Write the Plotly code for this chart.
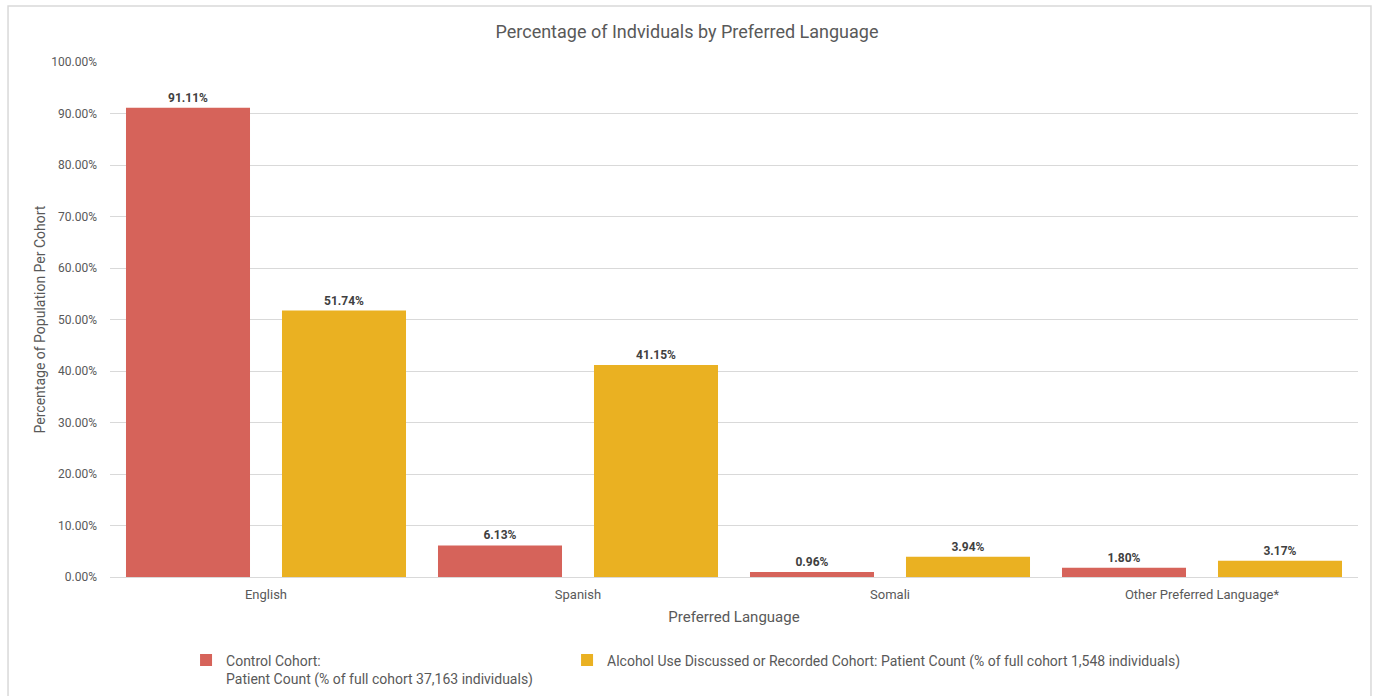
import plotly.graph_objects as go

# Share of each cohort by preferred language (percent)
languages = ["English", "Spanish", "Somali", "Other Preferred Language*"]
control_pct = [91.11, 6.13, 0.96, 1.80]
alcohol_pct = [51.74, 41.15, 3.94, 3.17]
y_ticks = [0, 10, 20, 30, 40, 50, 60, 70, 80, 90, 100]
y_tick_labels = [f"{v:.2f}%" for v in y_ticks]

series_names = [
    "Control Cohort:<br>Patient Count (% of full cohort 37,163 individuals)",
    "Alcohol Use Discussed or Recorded Cohort: Patient Count (% of full cohort 1,548 individuals)",
]
series_colors = ["#D6635A", "#EAB122"]
legend_ids = ["legend", "legend2"]

FONT = "Roboto, Arial, sans-serif"
GREY = "#595959"

fig = go.Figure()
for name, vals, color, lg in zip(series_names, [control_pct, alcohol_pct], series_colors, legend_ids):
    fig.add_trace(go.Bar(
        x=languages,
        y=vals,
        name=name,
        legend=lg,
        marker=dict(color=color, line=dict(width=0)),
        texttemplate="%{y:.2f}%",
        textposition="outside",
        textfont=dict(family=FONT, size=12, color="#404040", weight="bold"),
        cliponaxis=False,
    ))

# Light outer frame around the chart
fig.add_shape(
    type="rect", xref="paper", yref="paper",
    x0=-0.0817, x1=1.0104, y0=-0.25, y1=1.1087,
    line=dict(color="#D9D9D9", width=1.5), fillcolor="rgba(0,0,0,0)", layer="below",
)

legend_common = dict(
    orientation="h", xref="container", yref="container",
    xanchor="left", y=0.074, yanchor="top",
    font=dict(family=FONT, size=14, color=GREY),
    valign="top", bgcolor="rgba(0,0,0,0)",
)

fig.update_layout(
    width=1374, height=696,
    margin=dict(l=110, r=16, t=62, b=119),
    paper_bgcolor="white", plot_bgcolor="white",
    font=dict(family=FONT, color=GREY),
    barmode="group", bargap=0.0, bargroupgap=0.205,
    title=dict(
        text="Percentage of Indviduals by Preferred Language",
        x=0.5, xref="container", xanchor="center",
        y=0.955, yref="container", yanchor="middle",
        font=dict(family=FONT, size=18, color=GREY),
    ),
    showlegend=True,
    legend=dict(x=0.1354, **legend_common),
    legend2=dict(x=0.4127, **legend_common),
)

fig.update_xaxes(
    showgrid=False, showline=False, ticks="",
    ticklabelstandoff=8,
    tickfont=dict(family=FONT, size=13, color=GREY),
    title=dict(text="Preferred Language", font=dict(family=FONT, size=15, color=GREY), standoff=10),
)
fig.update_yaxes(
    range=[0, 100],
    tickvals=y_ticks, ticktext=y_tick_labels,
    showgrid=True, gridcolor="#D9D9D9", gridwidth=1,
    zeroline=True, zerolinecolor="#D9D9D9", zerolinewidth=1,
    showline=False, ticks="",
    ticklabelstandoff=12,
    tickfont=dict(family=FONT, size=12, color=GREY),
    title=dict(text="Percentage of Population Per Cohort", font=dict(family=FONT, size=14, color=GREY), standoff=2),
)

fig.write_html("out.html")
